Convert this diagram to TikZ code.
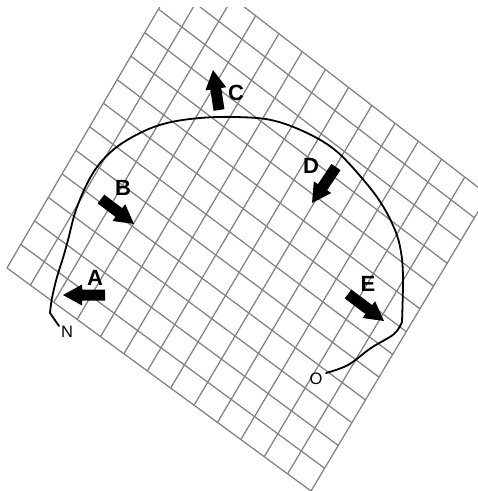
\documentclass[tikz,border=0pt]{standalone}
\usepackage{fontspec}
\setmainfont{Liberation Sans}
\usetikzlibrary{calc}
\definecolor{gridgray}{RGB}{130,130,130}
\tikzset{
  gridline/.style={draw=gridgray, line width=1.25pt},
  route/.style={draw=black, line width=1.8pt, line join=round, line cap=round},
  biglabel/.style={font=\fontsize{22}{24}\selectfont\bfseries, inner sep=0pt},
  smalllabel/.style={font=\fontsize{16.5}{18}\selectfont, inner sep=0pt},
}
\newcommand{\blkarrow}[2]{%
  \coordinate (m) at ($(#2)!19pt!(#1)$);
  \fill[black] ($(#1)!5.5pt!90:(#2)$) -- ($(m)!5.5pt!90:(#2)$) -- ($(m)!10.5pt!90:(#2)$) -- (#2)
     -- ($(m)!10.5pt!-90:(#2)$) -- ($(m)!5.5pt!-90:(#2)$) -- ($(#1)!5.5pt!-90:(#2)$) -- cycle;}
\begin{document}
\begin{tikzpicture}[x=1pt,y=-1pt]
\useasboundingbox (0,0) rectangle (478,491);
\fill[white] (0,0) rectangle (478,491);
% grid corners
\coordinate (gA) at (7,268);
\coordinate (gB) at (311,491);
\coordinate (gC) at (488,195);
\coordinate (gD) at (186,-38);
\begin{scope}
  \clip (0,7) rectangle (478,491);
  \foreach \i in {0,...,13}{
    \pgfmathsetmacro\s{\i/13}
    \draw[gridline] ($(gA)!\s!(gB)$) -- ($(gD)!\s!(gC)$);
    \draw[gridline] ($(gA)!\s!(gD)$) -- ($(gB)!\s!(gC)$);
  }
\end{scope}
% route
\draw[route] (59,326) -- plot[smooth, tension=0.6] coordinates {(50,313) (52,298) (57,277) (63,258) (68,240) (77,207) (93,173) (113,150) (140,133) (167,123) (200,118) (235,117) (271,120) (305,132) (335,150) (361,177) (381,203) (395,230) (401,252) (403,278) (402,322)}
  -- plot[smooth, tension=0.6] coordinates {(402,322) (394,334) (371,348) (348,365) (326,373)};
% arrows
\coordinate (aT) at (105,295); \coordinate (aH) at (63,295);
\coordinate (bT) at (101,199); \coordinate (bH) at (134,224);
\coordinate (cT) at (219,110); \coordinate (cH) at (213,70);
\coordinate (dT) at (336,167); \coordinate (dH) at (312,203);
\coordinate (eT) at (348,294); \coordinate (eH) at (384,321);
\blkarrow{aT}{aH}
\blkarrow{bT}{bH}
\blkarrow{cT}{cH}
\blkarrow{dT}{dH}
\blkarrow{eT}{eH}
% labels
\node[biglabel] (labA) at (95,278) {A};
\node[biglabel] (labB) at (123,188) {B};
\node[biglabel] (labC) at (236,93) {C};
\node[biglabel] (labD) at (311,166) {D};
\node[biglabel] (labE) at (368,284) {E};
\node[smalllabel] (labN) at (67,332) {N};
\node[smalllabel] (labO) at (316,379) {O};
\end{tikzpicture}
\end{document}
